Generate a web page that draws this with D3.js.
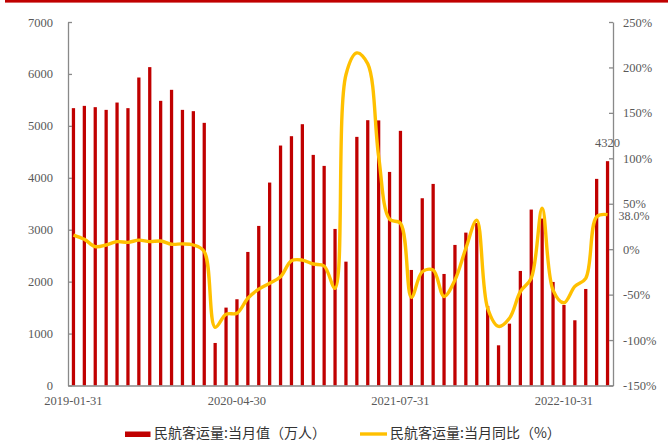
<!DOCTYPE html>
<html>
<head>
<meta charset="utf-8">
<script src="https://cdn.jsdelivr.net/npm/d3@7"></script>
<style>
  html, body { margin: 0; padding: 0; background: #fff; }
  svg { display: block; }
</style>
</head>
<body>
<div id="chart"></div>
<script>
// 民航客运量 monthly, 2019-01 .. 2023-02
var months = [
  '2019-01','2019-02','2019-03','2019-04','2019-05','2019-06','2019-07','2019-08','2019-09','2019-10','2019-11','2019-12',
  '2020-01','2020-02','2020-03','2020-04','2020-05','2020-06','2020-07','2020-08','2020-09','2020-10','2020-11','2020-12',
  '2021-01','2021-02','2021-03','2021-04','2021-05','2021-06','2021-07','2021-08','2021-09','2021-10','2021-11','2021-12',
  '2022-01','2022-02','2022-03','2022-04','2022-05','2022-06','2022-07','2022-08','2022-09','2022-10','2022-11','2022-12',
  '2023-01','2023-02'
];

// 当月值 (万人)
var volume = [
  5341, 5385, 5360, 5308, 5449, 5341, 5931, 6131, 5482, 5694, 5308, 5283,
  5058, 819, 1500, 1661, 2572, 3073, 3908, 4621, 4801, 5032, 4441, 4229,
  3015, 2385, 4788, 5109, 5105, 4113, 4904, 2225, 3606, 3882, 2148, 2707,
  2944, 3130, 1532, 774, 1191, 2206, 3388, 3215, 1994, 1551, 1256, 1859,
  3979, 4320
];

// 当月同比 (%)
var yoy = [
  15.6, 10.9, 2.8, 4.6, 8.3, 7.5, 10, 8.3, 9, 5.4, 5.8, 4.6,
  -2.7, -86, -71.6, -70.5, -54, -44, -37.5, -30.3, -12.7, -12, -16.3, -18.5,
  -43, 192, 216, 204, 102, 33, 28.5, -53, -24.8, -23, -52, -34,
  1, 32, -65, -85, -76, -46.8, -32, 45, -45, -59, -41, -32,
  35.7, 38.0
];

var xTickIndex = [0, 15, 30, 45];
var xTickLabels = ['2019-01-31', '2020-04-30', '2021-07-31', '2022-10-31'];
var leftTicks = [0, 1000, 2000, 3000, 4000, 5000, 6000, 7000];
var rightTicks = [-150, -100, -50, 0, 50, 100, 150, 200, 250];
var seriesNames = ['民航客运量:当月值（万人）', '民航客运量:当月同比（%）'];

var dims = {
  width: 669,
  height: 446,
  left: 68,
  right: 613,
  top: 22,
  bottom: 385.5
};

var colors = {
  bar: '#C00000',
  line: '#FFC000',
  axis: '#898989',
  label: '#595959',
  text: '#333333'
};

var tickFont = '"Liberation Serif", "Times New Roman", serif';
var cjkFont = '"Noto Sans CJK SC", sans-serif';

var svg = d3.select('#chart').append('svg')
  .attr('width', dims.width)
  .attr('height', dims.height);

// red rule on top
svg.append('rect')
  .attr('x', 5)
  .attr('y', 0)
  .attr('width', 663)
  .attr('height', 2.6)
  .attr('fill', colors.bar);

var x = d3.scaleBand()
  .domain(d3.range(months.length))
  .range([dims.left, dims.right])
  .paddingInner(0.7)
  .paddingOuter(0.35);

var yLeft = d3.scaleLinear().domain([0, 7000]).range([dims.bottom, dims.top]);
var yRight = d3.scaleLinear().domain([-150, 250]).range([dims.bottom, dims.top]);

var cx = function(i) { return x(i) + x.bandwidth() / 2; };

// bars
svg.append('g').selectAll('rect')
  .data(volume)
  .join('rect')
  .attr('x', function(d, i) { return x(i); })
  .attr('y', function(d) { return yLeft(d); })
  .attr('width', x.bandwidth())
  .attr('height', function(d) { return yLeft(0) - yLeft(d); })
  .attr('fill', colors.bar);

// left axis
var leftAxis = svg.append('g')
  .attr('transform', 'translate(' + dims.left + ',0)')
  .call(d3.axisLeft(yLeft).tickValues(leftTicks).tickSizeInner(-4).tickSizeOuter(0).tickPadding(15)
    .tickFormat(d3.format('d')));

// right axis
var rightAxis = svg.append('g')
  .attr('transform', 'translate(' + dims.right + ',0)')
  .call(d3.axisRight(yRight).tickValues(rightTicks).tickSizeInner(-4).tickSizeOuter(0).tickPadding(10)
    .tickFormat(function(d) { return d + '%'; }));

[leftAxis, rightAxis].forEach(function(g) {
  g.select('.domain').attr('stroke', colors.axis).attr('stroke-width', 1.3);
  g.selectAll('.tick line').attr('stroke', colors.axis).attr('stroke-width', 1.3);
  g.selectAll('.tick text')
    .attr('fill', colors.label)
    .attr('font-family', tickFont)
    .attr('font-size', 12.5);
});

// bottom axis
var bottomAxis = svg.append('g')
  .attr('transform', 'translate(0,' + dims.bottom + ')')
  .call(d3.axisBottom(x).tickValues(xTickIndex).tickSize(0).tickPadding(11)
    .tickFormat(function(d, i) { return xTickLabels[i]; }));

bottomAxis.select('.domain').attr('stroke', colors.axis).attr('stroke-width', 1.3);
bottomAxis.selectAll('.tick text')
  .attr('fill', colors.label)
  .attr('font-family', tickFont)
  .attr('font-size', 12.5);

// yoy line
var line = d3.line()
  .x(function(d, i) { return cx(i); })
  .y(function(d) { return yRight(d); })
  .curve(d3.curveCatmullRom.alpha(0.5));

svg.append('path')
  .datum(yoy)
  .attr('d', line)
  .attr('fill', 'none')
  .attr('stroke', colors.line)
  .attr('stroke-width', 3.4)
  .attr('stroke-linejoin', 'round');

// last value labels
var last = months.length - 1;

svg.append('text')
  .attr('x', cx(last))
  .attr('y', yLeft(volume[last]) - 17)
  .attr('fill', colors.label)
  .attr('font-family', tickFont)
  .attr('font-size', 12.5)
  .attr('text-anchor', 'middle')
  .attr('dominant-baseline', 'middle')
  .text(volume[last]);

svg.append('text')
  .attr('x', cx(last) + 11)
  .attr('y', yRight(yoy[last]) + 2.5)
  .attr('fill', colors.label)
  .attr('font-family', tickFont)
  .attr('font-size', 12)
  .attr('text-anchor', 'start')
  .attr('dominant-baseline', 'middle')
  .text(yoy[last].toFixed(1) + '%');

// legend
var legend = svg.append('g');

legend.append('rect')
  .attr('x', 125)
  .attr('y', 431.5)
  .attr('width', 25.5)
  .attr('height', 5.5)
  .attr('fill', colors.bar);

legend.append('text')
  .attr('x', 154)
  .attr('y', 434)
  .attr('fill', colors.text)
  .attr('font-family', cjkFont)
  .attr('font-size', 14)
  .attr('dominant-baseline', 'middle')
  .text(seriesNames[0]);

legend.append('line')
  .attr('x1', 360)
  .attr('x2', 387)
  .attr('y1', 434)
  .attr('y2', 434)
  .attr('stroke', colors.line)
  .attr('stroke-width', 3.4);

legend.append('text')
  .attr('x', 390)
  .attr('y', 434)
  .attr('fill', colors.text)
  .attr('font-family', cjkFont)
  .attr('font-size', 14)
  .attr('dominant-baseline', 'middle')
  .text(seriesNames[1]);
</script>
</body>
</html>
